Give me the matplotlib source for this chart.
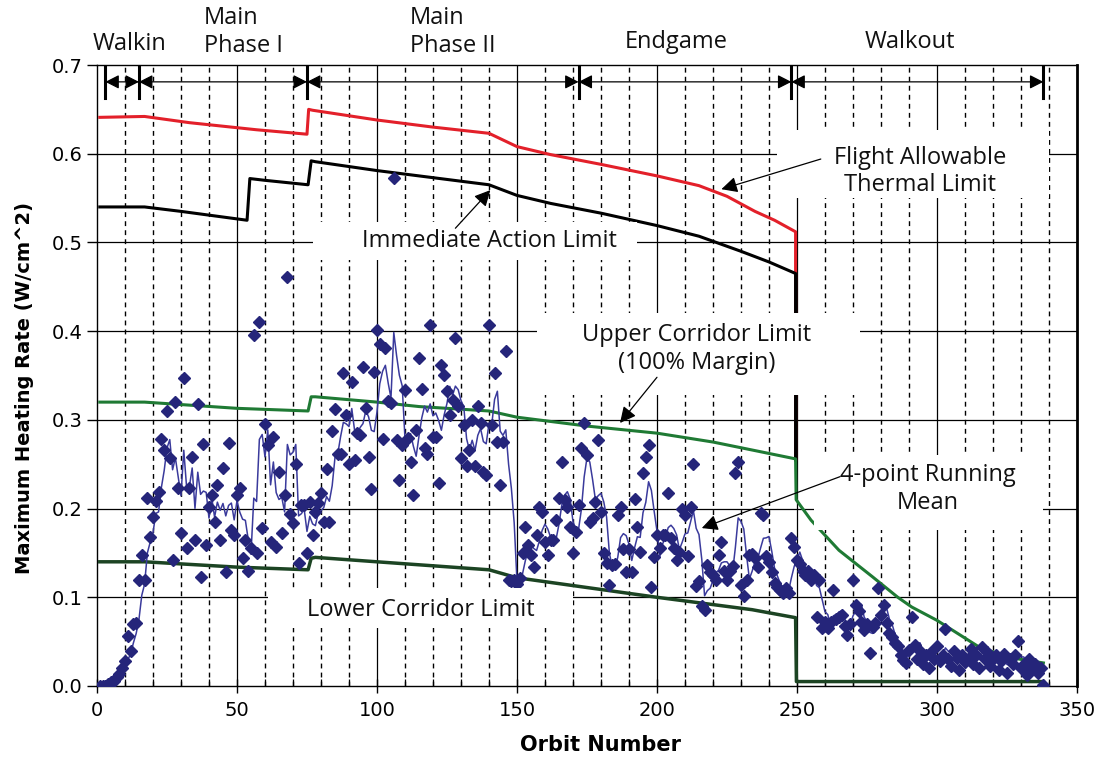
import numpy as np
import pandas as pd
import matplotlib
matplotlib.use('Agg')
import matplotlib.pyplot as plt
from matplotlib.patches import Rectangle

# measured maximum heating rate, one value per orbit starting at orbit 1
heating = [
    0.0, 0.0, 0.0, 0.002, 0.004, 0.006, 0.01, 0.014, 0.02, 0.028,
    0.056, 0.04, 0.07, 0.071, 0.12, 0.148, 0.12, 0.212, 0.168, 0.19,
    0.208, 0.219, 0.278, 0.266, 0.31, 0.257, 0.142, 0.32, 0.223, 0.173,
    0.347, 0.155, 0.223, 0.258, 0.165, 0.318, 0.123, 0.273, 0.159, 0.202,
    0.215, 0.185, 0.227, 0.165, 0.246, 0.129, 0.274, 0.176, 0.17, 0.215,
    0.223, 0.144, 0.165, 0.13, 0.156, 0.396, 0.15, 0.41, 0.178, 0.295,
    0.272, 0.162, 0.281, 0.157, 0.241, 0.172, 0.215, 0.461, 0.194, 0.184,
    0.25, 0.139, 0.204, 0.204, 0.15, 0.207, 0.17, 0.196, 0.206, 0.218,
    0.185, 0.245, 0.185, 0.288, 0.312, 0.262, 0.262, 0.353, 0.305, 0.25,
    0.343, 0.255, 0.285, 0.283, 0.36, 0.313, 0.258, 0.222, 0.354, 0.401,
    0.386, 0.278, 0.381, 0.321, 0.319, 0.573, 0.277, 0.232, 0.272, 0.334,
    0.28, 0.252, 0.215, 0.289, 0.37, 0.335, 0.268, 0.262, 0.407, 0.281,
    0.281, 0.229, 0.362, 0.351, 0.332, 0.306, 0.322, 0.392, 0.316, 0.257,
    0.294, 0.248, 0.266, 0.3, 0.248, 0.316, 0.297, 0.241, 0.238, 0.407,
    0.294, 0.353, 0.275, 0.227, 0.275, 0.378, 0.12, 0.118, 0.12, 0.115,
    0.122, 0.15, 0.179, 0.159, 0.148, 0.134, 0.17, 0.202, 0.196, 0.162,
    0.148, 0.165, 0.165, 0.187, 0.212, 0.252, 0.21, 0.202, 0.179, 0.15,
    0.174, 0.204, 0.268, 0.297, 0.26, 0.185, 0.189, 0.207, 0.277, 0.196,
    0.15, 0.139, 0.114, 0.136, 0.138, 0.193, 0.202, 0.154, 0.129, 0.154,
    0.129, 0.211, 0.179, 0.151, 0.24, 0.258, 0.272, 0.112, 0.145, 0.17,
    0.156, 0.17, 0.17, 0.218, 0.167, 0.155, 0.142, 0.151, 0.2, 0.193,
    0.146, 0.202, 0.25, 0.113, 0.118, 0.09, 0.086, 0.136, 0.129, 0.125,
    0.12, 0.148, 0.162, 0.13, 0.12, 0.13, 0.135, 0.24, 0.253, 0.114,
    0.101, 0.12, 0.148, 0.149, 0.144, 0.134, 0.195, 0.193, 0.146, 0.14,
    0.128, 0.116, 0.112, 0.108, 0.105, 0.11, 0.105, 0.167, 0.157, 0.142,
    0.138, 0.13, 0.125, 0.13, 0.12, 0.125, 0.078, 0.12, 0.065, 0.072,
    0.065, 0.072, 0.108, 0.075, 0.078, 0.08, 0.068, 0.058, 0.07, 0.12,
    0.091, 0.085, 0.072, 0.063, 0.07, 0.037, 0.067, 0.071, 0.11, 0.08,
    0.091, 0.071, 0.06, 0.055, 0.048, 0.045, 0.035, 0.029, 0.026, 0.041,
    0.078, 0.046, 0.03, 0.04, 0.025, 0.035, 0.02, 0.038, 0.03, 0.045,
    0.028, 0.035, 0.064, 0.03, 0.022, 0.04, 0.032, 0.018, 0.035, 0.027,
    0.03, 0.042, 0.025, 0.035, 0.02, 0.044, 0.03, 0.038, 0.022, 0.03,
    0.035, 0.018, 0.028, 0.036, 0.015, 0.03, 0.025, 0.035, 0.051, 0.02,
    0.025, 0.012, 0.03, 0.02, 0.025, 0.015, 0.02, 0.001,
]
orbits = np.arange(1, len(heating) + 1)

# limit curves, breakpoints
fal_orbit = [1, 17, 33, 57, 75, 75.6, 77, 100, 120, 140, 150, 162, 180, 200, 215, 225, 235, 242, 249.5, 249.5]
fal_val = [0.641, 0.642, 0.635, 0.627, 0.622, 0.650, 0.649, 0.638, 0.630, 0.623, 0.608, 0.599, 0.588, 0.575, 0.564, 0.552, 0.535, 0.525, 0.512, 0.255]

ial_orbit = [1, 17, 30, 53.6, 54.6, 60, 75.4, 76.5, 78, 100, 120, 140, 150, 162, 180, 200, 215, 230, 240, 249.5, 249.5]
ial_val = [0.540, 0.540, 0.535, 0.525, 0.572, 0.570, 0.565, 0.592, 0.591, 0.581, 0.573, 0.565, 0.553, 0.544, 0.533, 0.519, 0.507, 0.490, 0.478, 0.465, 0.255]

ucl_orbit = [1, 17, 50, 75.4, 76.5, 78, 100, 115, 140, 150, 175, 200, 220, 234, 249.5, 249.7, 255, 265, 277, 286, 291, 300, 315, 326, 338]
ucl_val = [0.320, 0.320, 0.313, 0.310, 0.326, 0.326, 0.320, 0.315, 0.310, 0.303, 0.293, 0.285, 0.275, 0.266, 0.256, 0.21, 0.187, 0.153, 0.123, 0.100, 0.089, 0.074, 0.044, 0.032, 0.026]

lcl_orbit = [1, 17, 50, 75.4, 76.5, 78, 100, 140, 150, 175, 200, 234, 249.5, 249.8, 338]
lcl_val = [0.140, 0.140, 0.134, 0.131, 0.144, 0.145, 0.140, 0.131, 0.122, 0.111, 0.100, 0.086, 0.077, 0.005, 0.005]

phase_names = ['Walkin', 'Main\nPhase I', 'Main\nPhase II', 'Endgame', 'Walkout']
phase_bounds = [3, 15, 75, 172, 248, 338]

running = pd.Series(heating).rolling(4, min_periods=1).mean()

ann_font = 'Open Sans'
ann_size = 17

fig = plt.figure(figsize=(11.02, 7.72), dpi=100)
ax = fig.add_axes([0.088, 0.1114, 0.8893, 0.8044])
ax.set_xlim(0, 350)
ax.set_ylim(0, 0.7)

# grid
for x in range(10, 350, 10):
    if x % 50:
        ax.axvline(x, color='k', lw=1.0, ls=(0, (3.5, 3)), zorder=1)
    else:
        ax.axvline(x, color='k', lw=0.9, zorder=1)
for y in np.arange(0.1, 0.65, 0.1):
    ax.axhline(y, color='k', lw=0.9, zorder=1)

ax.plot(fal_orbit, fal_val, color='#e3202a', lw=2.2, zorder=3)
ax.plot(ial_orbit, ial_val, color='black', lw=2.2, zorder=3)
ax.plot(ucl_orbit, ucl_val, color='#1f7a34', lw=2.2, zorder=3)
ax.plot(lcl_orbit, lcl_val, color='#1c4423', lw=2.5, zorder=3)
ax.plot(orbits, running, color='#3a3a9c', lw=1.1, zorder=4)
ax.plot(orbits, heating, 'D', ms=5.8, color='#25257a', mec='#25257a', zorder=5)

# white backing boxes behind the labels (orbit0, orbit1, val0, val1)
for x0, x1, y0, y1 in [(77, 193, 0.480, 0.523), (157, 272.5, 0.328, 0.421),
                       (243, 340, 0.550, 0.627), (256, 338, 0.176, 0.260),
                       (61, 170, 0.065, 0.111)]:
    ax.add_patch(Rectangle((x0, y0), x1 - x0, y1 - y0, facecolor='white',
                           edgecolor='none', zorder=6))

# phase markers along the top
for b in phase_bounds:
    ax.plot([b, b], [0.663, 0.698], color='k', lw=2.2, zorder=7)
for b0, b1 in zip(phase_bounds[:-1], phase_bounds[1:]):
    ax.annotate('', xy=(b1, 0.681), xytext=(b0, 0.681), zorder=7,
                arrowprops=dict(arrowstyle='<|-|>,head_length=0.55,head_width=0.28',
                                color='k', lw=0.9, mutation_scale=15,
                                shrinkA=0, shrinkB=0))

tk = dict(fontfamily=ann_font, fontsize=ann_size, color='#111111', zorder=8,
          linespacing=1.2, clip_on=False)
ax.text(11.8, 0.724, phase_names[0], ha='center', va='center', **tk)
ax.text(38.2, 0.737, phase_names[1], ha='left', va='center', **tk)
ax.text(111.8, 0.737, phase_names[2], ha='left', va='center', **tk)
ax.text(206.8, 0.726, phase_names[3], ha='center', va='center', **tk)
ax.text(290.4, 0.726, phase_names[4], ha='center', va='center', **tk)

ax.text(294, 0.580, 'Flight Allowable\nThermal Limit', ha='center', va='center', **tk)
ax.text(140, 0.502, 'Immediate Action Limit', ha='center', va='center', **tk)
ax.text(214.3, 0.380, 'Upper Corridor Limit\n(100% Margin)', ha='center', va='center', **tk)
ax.text(296.8, 0.222, '4-point Running\nMean', ha='center', va='center', **tk)
ax.text(115.7, 0.0857, 'Lower Corridor Limit', ha='center', va='center', **tk)

arr = dict(arrowstyle='-|>,head_length=0.6,head_width=0.3', color='k', lw=0.9,
           mutation_scale=16, shrinkA=0, shrinkB=0)
ax.annotate('', xy=(223, 0.560), xytext=(258.5, 0.594), arrowprops=arr, zorder=8)
ax.annotate('', xy=(140.5, 0.559), xytext=(128, 0.516), arrowprops=arr, zorder=8)
ax.annotate('', xy=(186.8, 0.2965), xytext=(200, 0.348), arrowprops=arr, zorder=8)
ax.annotate('', xy=(216, 0.178), xytext=(265.4, 0.236), arrowprops=arr, zorder=8)

# axes and ticks
ax.set_xticks(range(0, 351, 50))
ax.set_xticks(range(0, 351, 10), minor=True)
ax.tick_params(axis='x', which='major', direction='inout', length=10, width=1,
               labelsize=14, pad=6)
ax.tick_params(axis='x', which='minor', direction='in', length=5, width=0.9)
ax.set_yticks(np.arange(0, 0.71, 0.1))
ax.yaxis.set_major_formatter('{x:.1f}')
ax.tick_params(axis='y', direction='out', length=7, width=1, labelsize=14)
for side in ['left', 'bottom', 'top']:
    ax.spines[side].set_linewidth(1.0)
ax.spines['right'].set_linewidth(2.0)

fig.text(25 / 1102, 1 - 388 / 772, 'Maximum Heating Rate (W/cm^2)', rotation=90,
         ha='center', va='center', fontsize=14, fontweight='bold')
fig.text(600 / 1102, 1 - 745 / 772, 'Orbit Number', ha='center', va='center',
         fontsize=15, fontweight='bold')

fig.savefig('out.png', dpi=100)
